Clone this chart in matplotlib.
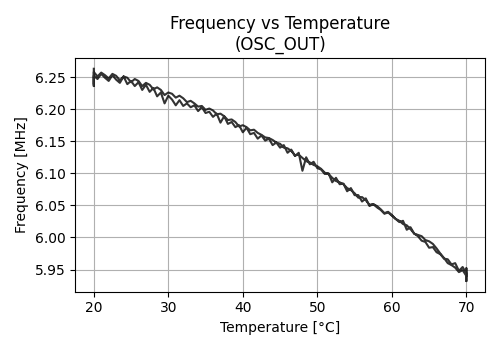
import matplotlib
matplotlib.use("Agg")
import matplotlib.pyplot as plt

# temperature setpoints for the heating sweep (°C); cooling sweep reuses them reversed
TEMP_STEPS = [
    20.0, 20.5, 21.0, 21.5, 22.0, 22.5, 23.0, 23.5, 24.0, 24.5,
    25.0, 25.5, 26.0, 26.5, 27.0, 27.5, 28.0, 28.5, 29.0, 29.5,
    30.0, 30.5, 31.0, 31.5, 32.0, 32.5, 33.0, 33.5, 34.0, 34.5,
    35.0, 35.5, 36.0, 36.5, 37.0, 37.5, 38.0, 38.5, 39.0, 39.5,
    40.0, 40.5, 41.0, 41.5, 42.0, 42.5, 43.0, 43.5, 44.0, 44.5,
    45.0, 45.5, 46.0, 46.5, 47.0, 47.5, 48.0, 48.5, 49.0, 49.5,
    50.0, 50.5, 51.0, 51.5, 52.0, 52.5, 53.0, 53.5, 54.0, 54.5,
    55.0, 55.5, 56.0, 56.5, 57.0, 57.5, 58.0, 58.5, 59.0, 59.5,
    60.0, 60.5, 61.0, 61.5, 62.0, 62.5, 63.0, 63.5, 64.0, 64.5,
    65.0, 65.5, 66.0, 66.5, 67.0, 67.5, 68.0, 68.5, 69.0, 69.5,
    70.0,
]

# heating sweep (MHz), one reading per setpoint
FREQ_UP = [
    6.252, 6.247, 6.255, 6.249, 6.244, 6.253, 6.246, 6.241, 6.251, 6.239,
    6.244, 6.236, 6.242, 6.230, 6.238, 6.227, 6.233, 6.220, 6.226, 6.209,
    6.221, 6.215, 6.206, 6.214, 6.205, 6.209, 6.203, 6.206, 6.197, 6.203,
    6.194, 6.196, 6.188, 6.193, 6.179, 6.189, 6.177, 6.180, 6.172, 6.175,
    6.164, 6.171, 6.161, 6.163, 6.154, 6.159, 6.151, 6.154, 6.144, 6.148,
    6.140, 6.144, 6.132, 6.137, 6.127, 6.132, 6.104, 6.125, 6.114, 6.118,
    6.108, 6.106, 6.099, 6.100, 6.086, 6.093, 6.083, 6.084, 6.072, 6.077,
    6.066, 6.066, 6.056, 6.061, 6.049, 6.052, 6.047, 6.043, 6.037, 6.039,
    6.034, 6.029, 6.024, 6.026, 6.012, 6.016, 6.006, 6.002, 5.995, 5.993,
    5.984, 5.985, 5.977, 5.974, 5.967, 5.966, 5.958, 5.960, 5.948, 5.954,
    5.944,
]

# cooling sweep (MHz), listed from 70 °C back down to 20 °C
FREQ_DOWN = [
    5.940, 5.949, 5.946, 5.953, 5.957, 5.960, 5.968, 5.975, 5.983, 5.990,
    5.994, 5.996, 6.002, 6.004, 6.006, 6.013, 6.019, 6.021, 6.026, 6.029,
    6.035, 6.040, 6.038, 6.044, 6.049, 6.052, 6.051, 6.058, 6.063, 6.062,
    6.069, 6.074, 6.077, 6.083, 6.086, 6.088, 6.093, 6.099, 6.101, 6.107,
    6.111, 6.113, 6.117, 6.119, 6.124, 6.129, 6.128, 6.135, 6.139, 6.140,
    6.146, 6.148, 6.152, 6.155, 6.156, 6.160, 6.163, 6.168, 6.167, 6.172,
    6.175, 6.173, 6.180, 6.184, 6.183, 6.189, 6.193, 6.192, 6.198, 6.201,
    6.199, 6.205, 6.204, 6.209, 6.213, 6.211, 6.217, 6.221, 6.218, 6.224,
    6.226, 6.222, 6.230, 6.234, 6.231, 6.238, 6.241, 6.236, 6.244, 6.247,
    6.242, 6.249, 6.251, 6.245, 6.252, 6.255, 6.248, 6.253, 6.257, 6.251,
    6.258,
]

# repeated readings while the chamber dwells at the end points
DWELL_START = [6.263, 6.236]
DWELL_TOP = [5.932, 5.950, 5.937, 5.952]
DWELL_END = [6.240]

temps = ([20.0] * len(DWELL_START) + TEMP_STEPS + [70.0] * len(DWELL_TOP)
         + TEMP_STEPS[::-1] + [20.0] * len(DWELL_END))
freqs = DWELL_START + FREQ_UP + DWELL_TOP + FREQ_DOWN + DWELL_END

fig, ax = plt.subplots(figsize=(5, 3.5), dpi=100)
ax.plot(temps, freqs, color="black", alpha=0.8, linewidth=1.5)
ax.set_title("Frequency vs Temperature\n(OSC_OUT)")
ax.set_xlabel("Temperature [°C]")
ax.set_ylabel("Frequency [MHz]")
ax.grid(True)
fig.tight_layout()
fig.savefig("out.png")
